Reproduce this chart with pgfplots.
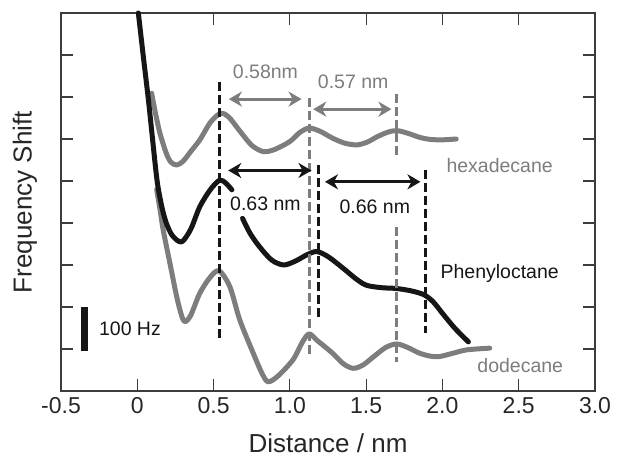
\documentclass[border=0pt]{standalone}
\usepackage{pgfplots}
\pgfplotsset{compat=1.18}
\usepackage{fontspec}
\setmainfont{Liberation Sans}
\usetikzlibrary{arrows.meta}
\definecolor{curvegray}{RGB}{125,125,125}
\definecolor{curveblack}{RGB}{22,22,22}
\definecolor{axisgray}{RGB}{60,60,60}

\begin{document}
\begin{tikzpicture}
\begin{axis}[
  scale only axis, width=534pt, height=378pt,
  xmin=-0.5, xmax=3.0, ymin=0, ymax=9,
  xtick={-0.5,0,0.5,1.0,1.5,2.0,2.5,3.0},
  xticklabels={-0.5,0,0.5,1.0,1.5,2.0,2.5,3.0},
  ytick={1,...,8}, yticklabels={},
  tick align=inside, major tick length=12pt,
  axis line style={axisgray, line width=1.2pt},
  tick style={axisgray, line width=1.2pt},
  ticklabel style={font=\fontsize{23}{23}\selectfont, text=black!85},
  xticklabel style={yshift=-3pt},
  xlabel={Distance / nm}, ylabel={Frequency Shift},
  label style={font=\fontsize{26}{26}\selectfont, text=black!85},
  xlabel style={at={(axis description cs:0.5,-0.137)}, anchor=center},
  ylabel style={at={(axis description cs:-0.0674,0.5)}, anchor=center},
  clip=false,
]
% hexadecane
\addplot[curvegray, line width=5pt, smooth, tension=0.5, line cap=round, line join=round] coordinates {
  (0.094,7.09) (0.12,6.6) (0.149,6.13) (0.19,5.66) (0.22,5.45) (0.258,5.38)
  (0.30,5.47) (0.35,5.7) (0.41,5.98) (0.48,6.4) (0.546,6.61) (0.60,6.52)
  (0.67,6.2) (0.75,5.85) (0.826,5.70) (0.9,5.75) (1.0,5.94) (1.07,6.17)
  (1.13,6.26) (1.2,6.18) (1.28,6.02) (1.36,5.9) (1.44,5.86) (1.51,5.93)
  (1.57,6.05) (1.64,6.16) (1.70,6.2) (1.77,6.14) (1.85,6.04) (1.92,5.99)
  (2.0,5.98) (2.09,6.0)};
% dodecane
\addplot[curvegray, line width=5pt, smooth, tension=0.5, line cap=round, line join=round] coordinates {
  (0.127,4.80) (0.15,4.3) (0.17,3.83) (0.214,3.04) (0.258,2.25) (0.29,1.8)
  (0.312,1.65) (0.35,1.8) (0.41,2.33) (0.48,2.72) (0.537,2.86) (0.607,2.48)
  (0.672,1.69) (0.76,0.90) (0.82,0.4) (0.858,0.22) (0.92,0.35) (1.02,0.74)
  (1.08,1.15) (1.126,1.36) (1.18,1.2) (1.28,0.90) (1.35,0.65) (1.415,0.54)
  (1.48,0.62) (1.55,0.82) (1.63,1.04) (1.70,1.12) (1.77,1.04) (1.85,0.90)
  (1.92,0.83) (1.98,0.82) (2.07,0.9) (2.16,0.98) (2.31,1.02)};
% phenyloctane (broken under the 0.63 nm label)
\addplot[curveblack, line width=5pt, smooth, tension=0.5, line cap=round, line join=round] coordinates {
  (0.007,9.0) (0.04,7.95) (0.073,6.93) (0.10,6.0) (0.13,5.0) (0.16,4.4)
  (0.19,4.0) (0.23,3.7) (0.29,3.55) (0.35,3.85) (0.41,4.39) (0.48,4.8)
  (0.54,5.02) (0.58,4.95) (0.62,4.79)};
\addplot[curveblack, line width=5pt, smooth, tension=0.5, line cap=round, line join=round] coordinates {
  (0.69,4.11) (0.74,3.75) (0.80,3.44) (0.88,3.12) (0.96,3.0) (1.04,3.1)
  (1.11,3.24) (1.175,3.32) (1.25,3.2) (1.35,2.92) (1.43,2.68) (1.50,2.52)
  (1.60,2.46) (1.70,2.44) (1.80,2.38) (1.88,2.29) (1.94,2.12) (2.0,1.85)
  (2.08,1.5) (2.17,1.17)};
% dashed guides
\addplot[curvegray, line width=2.6pt, dash pattern=on 9pt off 4pt] coordinates {(1.128,6.97) (1.128,0.83)};
\addplot[curvegray, line width=2.6pt, dash pattern=on 9pt off 4pt] coordinates {(1.70,7.07) (1.70,5.58)};
\addplot[curvegray, line width=2.6pt, dash pattern=on 9pt off 4pt] coordinates {(1.70,3.91) (1.70,0.70)};
\addplot[curveblack, line width=3pt, dash pattern=on 9pt off 4pt] coordinates {(0.542,7.36) (0.542,1.21)};
\addplot[curveblack, line width=3pt, dash pattern=on 9pt off 4pt] coordinates {(1.19,5.38) (1.19,1.77)};
\addplot[curveblack, line width=3pt, dash pattern=on 9pt off 4pt] coordinates {(1.89,5.26) (1.89,1.37)};
% spacing arrows
\addplot[curvegray, line width=3pt, {Stealth[length=13pt,width=15pt,inset=4pt]}-{Stealth[length=13pt,width=15pt,inset=4pt]}] coordinates {(0.60,6.95) (1.077,6.95)};
\addplot[curvegray, line width=3pt, {Stealth[length=13pt,width=15pt,inset=4pt]}-{Stealth[length=13pt,width=15pt,inset=4pt]}] coordinates {(1.153,6.71) (1.666,6.71)};
\addplot[curveblack, line width=3pt, {Stealth[length=13pt,width=15pt,inset=4pt]}-{Stealth[length=13pt,width=15pt,inset=4pt]}] coordinates {(0.596,5.25) (1.142,5.25)};
\addplot[curveblack, line width=3pt, {Stealth[length=13pt,width=15pt,inset=4pt]}-{Stealth[length=13pt,width=15pt,inset=4pt]}] coordinates {(1.23,4.98) (1.856,4.98)};
% 100 Hz scale bar
\addplot[curveblack, line width=7pt] coordinates {(-0.349,0.96) (-0.349,1.99)};
% labels
\begin{scope}[every node/.style={font=\fontsize{19.5}{19.5}\selectfont, inner sep=1pt}]
\node[text=curvegray] at (axis cs:0.84,7.6) {0.58nm};
\node[text=curvegray] at (axis cs:1.415,7.36) {0.57 nm};
\node[text=curveblack] at (axis cs:0.84,4.45) {0.63 nm};
\node[text=curveblack] at (axis cs:1.557,4.39) {0.66 nm};
\node[text=curvegray] at (axis cs:2.375,5.38) {hexadecane};
\node[text=curveblack] at (axis cs:2.375,2.79) {Phenyloctane};
\node[text=curvegray] at (axis cs:2.51,0.60) {dodecane};
\node[text=curveblack] at (axis cs:-0.048,1.47) {100 Hz};
\end{scope}
\coordinate (ll) at (rel axis cs:0,0);
\coordinate (ur) at (rel axis cs:1,1);
\end{axis}
\pgfresetboundingbox
\path ([shift={(-61pt,-66pt)}]ll) rectangle ([shift={(25pt,13pt)}]ur);
\end{tikzpicture}
\end{document}
